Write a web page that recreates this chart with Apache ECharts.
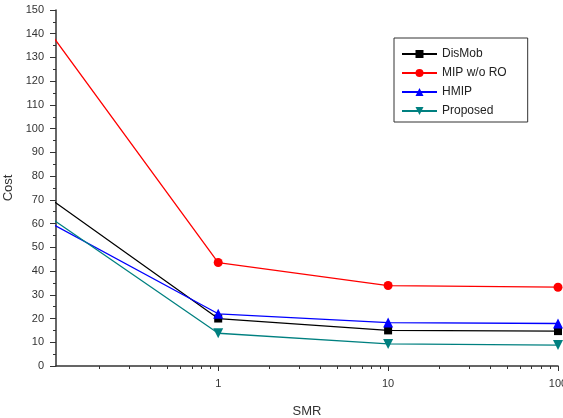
<!DOCTYPE html>
<html>
<head>
<meta charset="utf-8">
<script src="https://cdn.jsdelivr.net/npm/echarts@6/dist/echarts.min.js"></script>
<style>
  html, body { margin: 0; padding: 0; background: #fff; }
  #chart { width: 563px; height: 418px; }
</style>
</head>
<body>
<div id="chart"></div>
<script>
// SMR values (log axis); the first point sits just left of the visible range
var smr = [0.1, 1, 10, 100];
var disMob = [71, 20, 15, 14.7];
var mipNoRo = [141.5, 43.6, 33.9, 33.2];
var hmip = [60.7, 22, 18.3, 17.9];
var proposed = [63, 13.8, 9.3, 8.8];

var majorX = [1, 10, 100];
var minorX = [0.2, 0.3, 0.4, 0.5, 0.6, 0.7, 0.8, 0.9,
              2, 3, 4, 5, 6, 7, 8, 9,
              20, 30, 40, 50, 60, 70, 80, 90];

var chart = echarts.init(document.getElementById('chart'));

function pairs(ys) {
  return smr.map(function (x, i) { return [x, ys[i]]; });
}

function lineSeries(name, ys, color, symbol, size, rotate) {
  return {
    name: name,
    type: 'line',
    data: pairs(ys),
    symbol: symbol,
    symbolSize: size,
    symbolRotate: rotate || 0,
    clip: true,
    color: color,
    lineStyle: { color: color, width: 1.3 },
    itemStyle: { color: color }
  };
}

var axisFont = { fontFamily: 'Liberation Sans, Arial, sans-serif', fontSize: 11, color: '#333' };

var option = {
  animation: false,
  grid: { left: 56, right: 5, top: 10, bottom: 52, containLabel: false, outerBoundsMode: 'none' },
  legend: {
    orient: 'vertical',
    left: 394,
    top: 38,
    padding: [9, 21, 4, 7],
    borderColor: '#333',
    borderWidth: 1,
    itemWidth: 35,
    itemHeight: 10,
    itemGap: 5,
    textStyle: { fontFamily: 'Liberation Sans, Arial, sans-serif', fontSize: 12, color: '#222', lineHeight: 14 },
    data: ['DisMob', 'MIP w/o RO', 'HMIP', 'Proposed']
  },
  xAxis: [
    {
      type: 'log',
      min: 0.111,
      max: 100,
      name: 'SMR',
      nameLocation: 'middle',
      nameGap: 39,
      nameTextStyle: { fontFamily: 'Liberation Sans, Arial, sans-serif', fontSize: 13, color: '#333' },
      axisLine: { lineStyle: { color: '#333', width: 1.5 } },
      axisTick: { inside: false, length: 5, customValues: majorX, lineStyle: { color: '#333' } },
      axisLabel: Object.assign({ margin: 12, customValues: majorX }, axisFont),
      splitLine: { show: false }
    },
    {
      type: 'log',
      min: 0.111,
      max: 100,
      position: 'bottom',
      axisLine: { show: false },
      axisTick: { inside: false, length: 3, customValues: minorX, lineStyle: { color: '#333' } },
      axisLabel: { show: false },
      splitLine: { show: false }
    }
  ],
  yAxis: {
    type: 'value',
    min: 0,
    max: 150,
    interval: 10,
    name: 'Cost',
    nameLocation: 'middle',
    nameGap: 40,
    nameTextStyle: { fontFamily: 'Liberation Sans, Arial, sans-serif', fontSize: 13, color: '#333' },
    axisLine: { show: true, lineStyle: { color: '#333', width: 1.5 } },
    axisTick: { show: true, inside: false, length: 6, lineStyle: { color: '#333' } },
    minorTick: { show: true, splitNumber: 2, length: 3, lineStyle: { color: '#333' } },
    axisLabel: Object.assign({ margin: 12 }, axisFont),
    splitLine: { show: false }
  },
  series: [
    lineSeries('DisMob', disMob, '#000000', 'rect', 8),
    lineSeries('MIP w/o RO', mipNoRo, '#ff0000', 'circle', 9),
    lineSeries('HMIP', hmip, '#0000ff', 'triangle', 10),
    lineSeries('Proposed', proposed, '#008080', 'triangle', 10, 180)
  ]
};

chart.setOption(option);
</script>
</body>
</html>
